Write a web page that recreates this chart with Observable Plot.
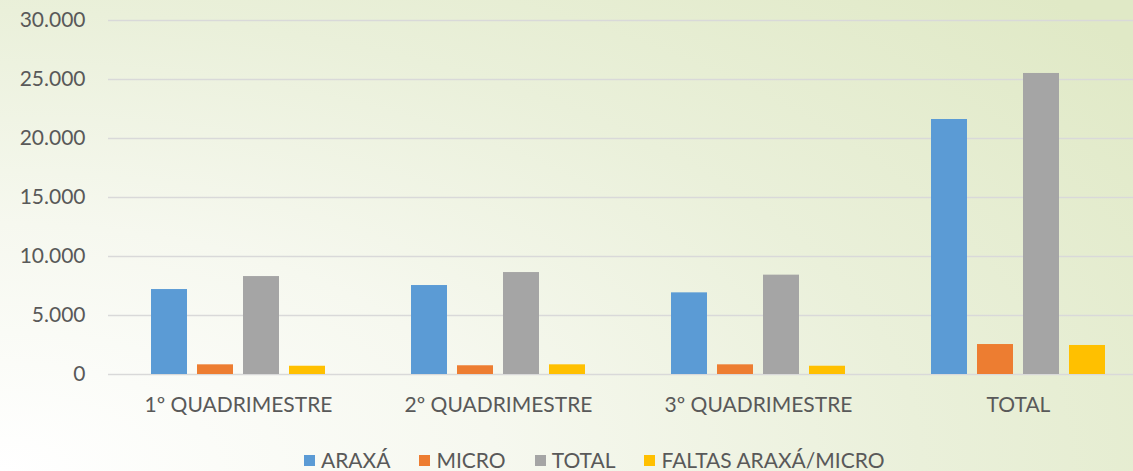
<!DOCTYPE html>
<html>
<head>
<meta charset="utf-8">
<script src="https://cdn.jsdelivr.net/npm/d3@7"></script>
<script src="https://cdn.jsdelivr.net/npm/@observablehq/plot@0.6"></script>
<style>
  html, body { margin: 0; padding: 0; background: #fff; }
  #wrap {
    position: relative; width: 1133px; height: 471px; overflow: hidden;
    background: radial-gradient(ellipse 125% 150% at 0% 100%, #ffffff 0%, #f6f8ef 35%, #eaf0da 65%, #e0e9c6 100%);
    font-family: Lato, "Open Sans", sans-serif; color: #595959;
  }
  #chart { position: absolute; left: 0; top: 0; width: 1148px; }
  #chart svg { max-width: none !important; }
  #legend { position: absolute; left: 304px; top: 447px; display: flex; font-size: 21px; line-height: 26px; }
  #legend .item { display: flex; align-items: center; margin-right: 29px; }
  #legend .sw { width: 11px; height: 11px; margin-right: 6px; }
</style>
</head>
<body>
<div id="wrap">
  <div id="chart"></div>
  <div id="legend"></div>
</div>
<script>
const categories = ["1º QUADRIMESTRE", "2º QUADRIMESTRE", "3º QUADRIMESTRE", "TOTAL"];
const series = ["ARAXÁ", "MICRO", "TOTAL", "FALTAS ARAXÁ/MICRO"];
const colors = ["#5b9bd5", "#ed7d31", "#a5a5a5", "#ffc000"];
const araxa  = [7200, 7540, 6920, 21610];
const micro  = [820, 740, 820, 2540];
const total  = [8300, 8640, 8420, 25510];
const faltas = [700, 820, 700, 2460];
const yTicks = [0, 5000, 10000, 15000, 20000, 25000, 30000];

const values = [araxa, micro, total, faltas];
const data = [];
categories.forEach((c, i) => series.forEach((s, j) => data.push({category: c, series: s, value: values[j][i]})));

const fmt = d => d3.format(",")(d).replace(/,/g, ".");

const chart = Plot.plot({
  width: 1148,
  height: 440,
  marginLeft: 108,
  marginRight: 0,
  marginTop: 20,
  marginBottom: 66,
  style: {fontFamily: "Lato, 'Open Sans', sans-serif", fontSize: "21px", color: "#595959", background: "transparent", maxWidth: "none"},
  fx: {domain: categories, padding: 0, label: null, axis: "bottom", tickSize: 0, tickPadding: 23},
  x: {domain: series, paddingInner: 0.213, paddingOuter: 0.883, axis: null},
  y: {domain: [0, 30000], ticks: yTicks, tickFormat: fmt, tickSize: 0, tickPadding: 23, label: null},
  color: {domain: series, range: colors},
  marks: [
    Plot.ruleY(yTicks, {stroke: "#d9d9d9", strokeWidth: 1.6}),
    Plot.barY(data, {fx: "category", x: "series", y: "value", fill: "series"})
  ]
});
document.getElementById("chart").appendChild(chart);

const legend = document.getElementById("legend");
series.forEach((s, i) => {
  const it = document.createElement("div");
  it.className = "item";
  const sw = document.createElement("span");
  sw.className = "sw";
  sw.style.background = colors[i];
  const t = document.createElement("span");
  t.textContent = s;
  it.appendChild(sw); it.appendChild(t);
  legend.appendChild(it);
});
</script>
</body>
</html>
